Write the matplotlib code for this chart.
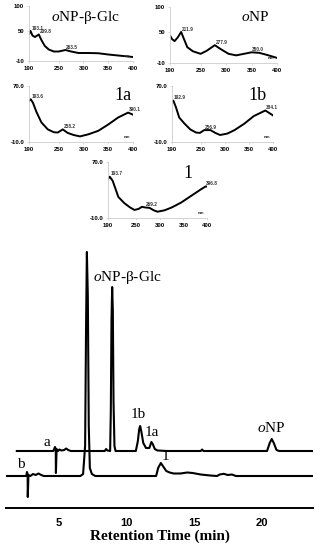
import matplotlib
matplotlib.use("Agg")
import matplotlib.pyplot as plt

plt.rcParams['font.family'] = ['Liberation Serif', 'DejaVu Serif']
plt.rcParams['mathtext.fontset'] = 'custom'
plt.rcParams['mathtext.rm'] = 'Liberation Serif'
plt.rcParams['mathtext.it'] = 'Liberation Serif:italic'

# UV spectra, wavelength (nm) vs absorbance
glc_wl = [190, 193.1, 197, 202, 209.8, 215, 222, 230, 240, 250, 263.5, 275, 290, 310, 330, 350, 370, 390, 400]
glc_abs = [44, 50, 41, 38, 43, 32, 20, 13, 9, 9, 12, 9, 6, 6, 5.5, 3, 1, -1, -2]
glc_peaks = [193.1, 209.8, 263.5]

onp_wl = [190, 194, 199, 205, 211.9, 217, 224, 235, 250, 262, 277.9, 290, 305, 320, 335, 350, 365, 380, 400]
onp_abs = [44, 37, 33, 40, 51, 38, 21, 13, 8, 14, 25, 17, 8, 5, 8, 11, 10, 6, 0]
onp_peaks = [211.9, 277.9, 350.0]

c1a_wl = [190, 193.6, 198, 205, 215, 228, 240, 248, 258.2, 268, 280, 293, 310, 330, 350, 370, 390.1, 400]
c1a_abs = [49, 51, 46, 33, 18, 8, 4, 3.5, 8, 3, 0, -2, 1, 6, 15, 25, 32, 29]
c1a_peaks = [193.6, 258.2, 390.1]

c1b_wl = [190, 192.9, 198, 205, 215, 228, 240, 248, 256.9, 270, 280, 290, 305, 320, 340, 360, 384.1, 400]
c1b_abs = [48, 49, 40, 25, 17, 8, 3.5, 3, 7, 7, 3, 0, 2, 7, 16, 27, 35, 28]
c1b_peaks = [192.9, 256.9, 384.1]

c1_wl = [190, 193.7, 200, 212, 225, 237, 246, 255, 262, 269.2, 278, 287, 295, 310, 325, 345, 365, 385, 396.8, 400]
c1_abs = [46, 49, 43, 20, 11, 5, 1.5, 3, 6, 5, 4.5, 1, -1, 1, 5, 12, 21, 30, 35, 35]
c1_peaks = [193.7, 269.2, 396.8]

# HPLC traces, retention time (min) vs signal above baseline
a_time = [1.9, 4.6, 4.72, 4.78, 4.79, 4.84, 4.95, 5.05, 5.2, 5.4, 5.55, 5.7, 5.9, 8.4, 8.5, 8.6, 8.8, 8.85,
          8.9, 8.95, 9.0, 9.05, 9.12, 9.2, 10.7, 10.85, 10.95, 11.02, 11.1, 11.25, 11.45, 11.7, 11.85, 11.95,
          12.1, 12.3, 13.0, 15.5, 15.6, 15.7, 20.4, 20.6, 20.75, 20.9, 21.1, 21.3, 23.8]
a_signal = [0, 0, 4, 2, -22, 2, 0, 1.5, 0.5, 1, 2.5, 1, 0, 0, 2, 0.5, 0, 40,
            130, 164, 140, 50, 5, 0, 0, 10, 22, 25, 20, 8, 3, 3, 9, 7,
            2, 0.5, 0, 0, 1.5, 0, 0, 8, 12, 8, 1, 0, 0]

b_time = [1.1, 2.6, 2.65, 2.7, 2.71, 2.76, 2.9, 3.1, 3.3, 3.5, 3.7, 3.9, 6.6, 6.8, 6.95, 7.02, 7.08, 7.15,
          7.22, 7.3, 7.45, 7.7, 12.2, 12.35, 12.55, 12.75, 12.95, 13.2, 13.5, 14.0, 14.5, 14.9, 15.5, 16.2,
          16.7, 16.9, 17.2, 17.5, 17.8, 18.1, 23.8]
b_signal = [0, 0, 4, 2, -21, 1, 0, 2, 1, 2.5, 1, 0, 0, 2, 30, 150, 224, 180,
            50, 8, 2, 0, 0, 8, 13, 9, 5, 3.5, 2.5, 2.5, 3.5, 3, 1.5, 0.5,
            0, 1.5, 2.2, 1, 1.5, 0, 0]

W, H = 320, 550
fig = plt.figure(figsize=(W / 100, H / 100), dpi=100)


def rect(l, t, r, b):
    return [l / W, 1 - b / H, (r - l) / W, (b - t) / H]


panels = [
    (glc_wl, glc_abs, glc_peaks, (29, 6, 133, 61), (-10, 100), [-10, 50, 100], '%d',
     r'$\mathit{o}$NP-β-Glc', (85, 17), 11),
    (onp_wl, onp_abs, onp_peaks, (170, 7, 277, 63), (-10, 100), [-10, 50, 100], '%d',
     r'$\mathit{o}$NP', (255, 17), 11),
    (c1a_wl, c1a_abs, c1a_peaks, (29, 86, 133, 142), (-10, 70), [-10, 70], '%.1f', '1a', (123, 96), 13),
    (c1b_wl, c1b_abs, c1b_peaks, (172, 86, 273, 142), (-10, 70), [-10, 70], '%.1f', '1b', (257, 96), 13),
    (c1_wl, c1_abs, c1_peaks, (108, 162, 207, 218), (-10, 70), [-10, 70], '%.1f', '1', (188, 174), 13),
]

tick_font = dict(family='Liberation Sans', weight='bold', size=4.3)
for wl, ab, peaks, box, ylim, yt, fmt, title, tpos, tsize in panels:
    ax = fig.add_axes(rect(*box))
    ax.plot(wl, ab, color='black', lw=1.4, solid_joinstyle='round')
    ax.set_xlim(190, 400)
    ax.set_ylim(*ylim)
    ax.set_xticks([190, 250, 300, 350, 400])
    ax.set_yticks(yt)
    ax.set_xticklabels([str(v) for v in [190, 250, 300, 350, 400]], **tick_font)
    ax.set_yticklabels([fmt % v for v in yt], **tick_font)
    for s in ['top', 'right']:
        ax.spines[s].set_visible(False)
    for s in ['left', 'bottom']:
        ax.spines[s].set_color('#cccccc')
        ax.spines[s].set_linewidth(0.6)
    ax.tick_params(length=1.5, width=0.5, color='#cccccc', pad=2)
    for p in peaks:
        i = min(range(len(wl)), key=lambda k: abs(wl[k] - p))
        ax.annotate('%.1f' % p, (wl[i], ab[i]), xytext=(0.5, 1), textcoords='offset points',
                    fontsize=3.4, family='Liberation Sans', weight='bold', color='#333333')
    ax.text(0.97, 0.06, 'nm', transform=ax.transAxes, fontsize=3.2, family='Liberation Sans',
            weight='bold', color='#333333', ha='right', va='bottom')
    fig.text(tpos[0] / W, 1 - tpos[1] / H, title, fontsize=tsize, ha='center', va='center')

# chromatograms
off_a, off_b = 57, 32
ax = fig.add_axes(rect(6, 245, 313, 508))
ax.plot(a_time, [v + off_a for v in a_signal], color='black', lw=1.5)
ax.plot(b_time, [v + off_b for v in b_signal], color='black', lw=1.5)
ax.set_xlim(1.1, 23.8)
ax.set_ylim(0, 263)
ax.set_yticks([])
for s in ['top', 'right', 'left']:
    ax.spines[s].set_visible(False)
ax.spines['bottom'].set_linewidth(1.4)
ax.set_xticks([5, 10, 15, 20])
ax.set_xticklabels(['5', '10', '15', '20'], family='Liberation Sans', weight='bold', size=8)
ax.tick_params(axis='x', length=0, pad=7)
ax.set_xlabel('Retention Time (min)', fontsize=11, weight='bold', labelpad=1)

ax.text(10.1, 231, r'$\mathit{o}$NP-β-Glc', fontsize=11, ha='center', va='center')
ax.text(10.9, 93, '1b', fontsize=11, ha='center', va='center')
ax.text(11.9, 75, '1a', fontsize=11, ha='center', va='center')
ax.text(20.7, 80, r'$\mathit{o}$NP', fontsize=11, ha='center', va='center')
ax.text(4.1, 66, 'a', fontsize=11, ha='center', va='center')
ax.text(2.2, 44, 'b', fontsize=11, ha='center', va='center')
ax.text(12.9, 51, '1', fontsize=11, ha='center', va='center')

fig.savefig('out.png', dpi=100)
